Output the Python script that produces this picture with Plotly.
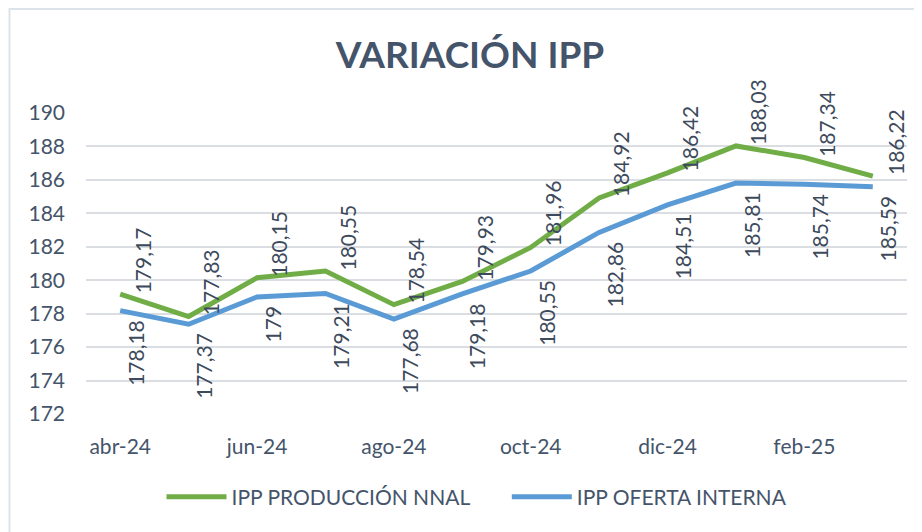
import plotly.graph_objects as go

months = ["abr-24", "may-24", "jun-24", "jul-24", "ago-24", "sep-24",
          "oct-24", "nov-24", "dic-24", "ene-25", "feb-25", "mar-25"]
tick_months = ["abr-24", "jun-24", "ago-24", "oct-24", "dic-24", "feb-25"]
produccion = [179.17, 177.83, 180.15, 180.55, 178.54, 179.93,
              181.96, 184.92, 186.42, 188.03, 187.34, 186.22]
oferta = [178.18, 177.37, 179.00, 179.21, 177.68, 179.18,
          180.55, 182.86, 184.51, 185.81, 185.74, 185.59]
y_ticks = [172, 174, 176, 178, 180, 182, 184, 186, 188, 190]

GREEN = "#70AD47"
BLUE = "#5B9BD5"
TEXT = "#44546A"
LABEL = "#3D4A5C"
FONT = "Lato, Open Sans, sans-serif"

# The page body has an 8px margin, so the figure is drawn 8px in from the top-left.
W, H = 914, 524
L, R, T, B = 78, 15, 105, 118
PW = W - L - R
PH = H - T - B


def fmt(v):
    s = f"{v:.2f}".rstrip("0").rstrip(".")
    return s.replace(".", ",")


fig = go.Figure()
fig.add_trace(go.Scatter(x=months, y=produccion, mode="lines",
                         name="IPP PRODUCCIÓN NNAL" + "\u00a0" * 6,
                         line=dict(color=GREEN, width=5)))
fig.add_trace(go.Scatter(x=months, y=oferta, mode="lines",
                         name="IPP OFERTA INTERNA",
                         line=dict(color=BLUE, width=5)))

annotations = []
for m, v in zip(months, produccion):
    annotations.append(dict(x=m, y=v, text=fmt(v), showarrow=False,
                            textangle=-90, xanchor="center", yanchor="bottom",
                            xshift=22, yshift=-1,
                            font=dict(family=FONT, size=21, color=LABEL)))
for m, v in zip(months, oferta):
    annotations.append(dict(x=m, y=v, text=fmt(v), showarrow=False,
                            textangle=-90, xanchor="center", yanchor="top",
                            xshift=15, yshift=-7,
                            font=dict(family=FONT, size=21, color=LABEL)))

fig.update_layout(
    width=W, height=H,
    margin=dict(l=L, r=R, t=T, b=B),
    paper_bgcolor="white", plot_bgcolor="white",
    font=dict(family=FONT, color=TEXT, size=21),
    title=dict(text="<b>VARIACIÓN IPP</b>", x=462 / W, xanchor="center",
               y=1 - 47 / H, yanchor="middle", xref="container", yref="container",
               font=dict(family=FONT, size=37, color=TEXT)),
    xaxis=dict(type="category", categoryorder="array", categoryarray=months,
               range=[-0.5, len(months) - 0.5],
               tickmode="array", tickvals=tick_months, ticktext=tick_months,
               showgrid=False, zeroline=False, showline=False, ticks="",
               tickfont=dict(family=FONT, size=21, color=TEXT), ticklabelstandoff=18),
    yaxis=dict(range=[172, 190], tickmode="array", tickvals=y_ticks,
               showgrid=True, gridcolor="#DADDE2", gridwidth=1.5,
               zeroline=False, showline=False, ticks="",
               tickfont=dict(family=FONT, size=21, color=TEXT), ticklabelstandoff=20),
    legend=dict(orientation="h", x=469 / W, xanchor="center", xref="container",
                y=1 - 489 / H, yanchor="middle", yref="container",
                font=dict(family=FONT, size=21, color=TEXT),
                itemwidth=60, tracegroupgap=0),
    annotations=annotations,
    showlegend=True,
)

fig.add_shape(type="rect", xref="paper", yref="paper",
              x0=(1.5 - L) / PW, x1=(W + 10 - L) / PW,
              y0=(PH + T - (H + 10)) / PH, y1=(PH + T - 1) / PH,
              line=dict(color="#DDE3EA", width=2), fillcolor="rgba(0,0,0,0)",
              layer="below")

fig.write_html("out.html")
